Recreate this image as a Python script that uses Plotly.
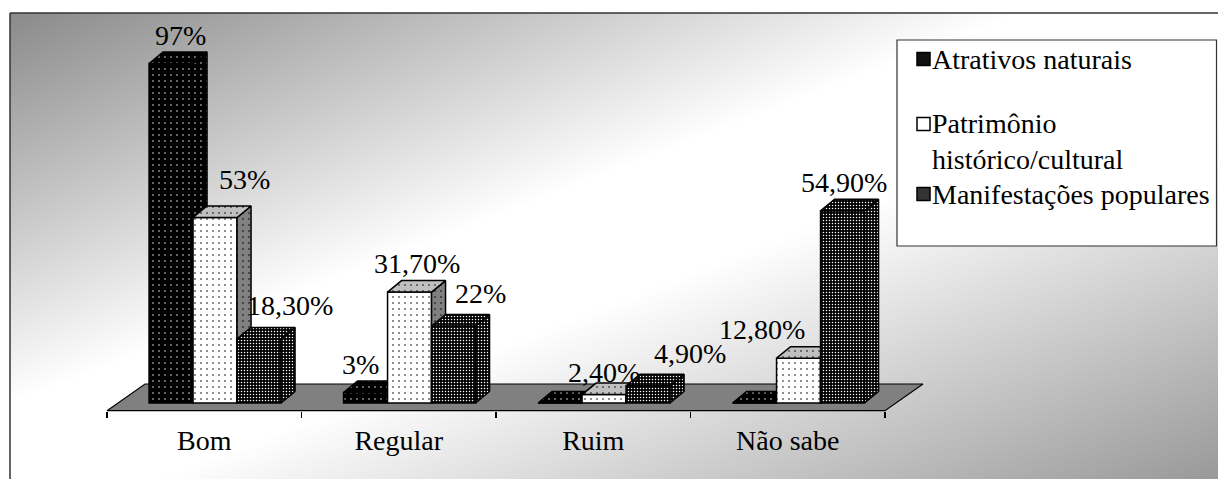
import base64
import plotly.graph_objects as go

# ---------------- data ----------------
categories = ["Bom", "Regular", "Ruim", "Não sabe"]
series_names = ["Atrativos naturais", "Patrimônio histórico/cultural", "Manifestações populares"]
atrativos_naturais = [97, 3, 0, 0]
patrimonio_historico_cultural = [53, 31.7, 2.4, 12.8]
manifestacoes_populares = [18.3, 22, 4.9, 54.9]
series_values = [atrativos_naturais, patrimonio_historico_cultural, manifestacoes_populares]

# ---------------- geometry / style ----------------
W, H = 1218, 479
FONT = "Times New Roman, Liberation Serif, Tinos, DejaVu Serif, serif"
FS = 28
# pixel constants (screen coordinates; body margin removed by post_script)
X0_PX, CAT_PX = 204.25, 194.5      # pixel of first category centre, pixels per category
Y0_PX, PCT_PX = 403.0, 3.5         # pixel of 0 %, pixels per 1 %
XR = [(0 - X0_PX) / CAT_PX, (W - X0_PX) / CAT_PX]
YR = [(Y0_PX - H) / PCT_PX, Y0_PX / PCT_PX]

BAR_W = 44 / CAT_PX
SHIFT = 10.8 / CAT_PX
DX, DY = 14 / CAT_PX, 11.5 / PCT_PX           # bar depth
FLOOR_FRONT = (Y0_PX - 410.7) / PCT_PX
FDX, FDY = 38 / CAT_PX, 26.7 / PCT_PX          # floor depth
AXIS_PX = 410.7


def xp(px):
    return px / W


def yp(py):
    return 1 - py / H


def pat(bg, fg, size, sol):
    return dict(shape=".", bgcolor=bg, fgcolor=fg, size=size, solidity=sol, fillmode="replace")


styles = [
    dict(front=pat("black", "#8a8a8a", 6, 0.08), top=pat("black", "#8a8a8a", 6, 0.08),
         side=pat("black", "#8a8a8a", 6, 0.08), legend="#101010"),
    dict(front=pat("white", "black", 6, 0.06), top=pat("#c0c0c0", "black", 6, 0.06),
         side=pat("#808080", "black", 6, 0.06), legend="white"),
    dict(front=pat("black", "white", 3, 0.2), top=pat("black", "white", 3, 0.2),
         side=pat("black", "white", 3, 0.2), legend="#333333"),
]

# per-label nudges in pixels (Excel label placement), styling only
label_xshift = [[2, -12, 0, 0], [22, 0, -7, -44], [24, 20, 35, -6]]
label_yshift = [[0, 0, 0, 0], [10, 0, -6, 0], [5, 4, 4, 0]]


def fmt(v):
    if float(v).is_integer():
        return f"{int(v)}%"
    return f"{v:.2f}".replace(".", ",") + "%"


fig = go.Figure()
ncat = len(categories)
cat_idx = list(range(ncat))

# floor
fx = [-0.5, ncat - 0.5, ncat - 0.5 + FDX, -0.5 + FDX, -0.5]
fy = [FLOOR_FRONT, FLOOR_FRONT, FLOOR_FRONT + FDY, FLOOR_FRONT + FDY, FLOOR_FRONT]
fig.add_trace(go.Scatter(x=fx, y=fy, mode="lines", fill="toself", fillcolor="#808080",
                         line=dict(color="black", width=1.2), hoverinfo="skip",
                         showlegend=False, xaxis="x", yaxis="y"))

annotations = []
for s, vals in enumerate(series_values):
    axn = f"x{s + 2}"
    off = SHIFT + (s - 1.5) * BAR_W
    st = styles[s]
    fig.add_trace(go.Bar(x=cat_idx, y=vals, width=BAR_W, offset=off, name=series_names[s],
                         marker=dict(color=st["front"]["bgcolor"], pattern=st["front"],
                                     line=dict(color="black", width=1.5)),
                         showlegend=False, xaxis=axn, yaxis="y"))
    tx, ty, sx, sy = [], [], [], []
    for c, v in zip(cat_idx, vals):
        L = c + off
        R = L + BAR_W
        tx += [L, R, R + DX, L + DX, L, None]
        ty += [v, v, v + DY, v + DY, v, None]
        if v > 0:
            sx += [R, R, R + DX, R + DX, R, None]
            sy += [0, v, v + DY, DY, 0, None]
            annotations.append(dict(
                x=L + BAR_W / 2 + DX / 2, y=v + DY, xref=axn, yref="y", text=fmt(v),
                showarrow=False, xanchor="center", yanchor="middle",
                xshift=label_xshift[s][c], yshift=17 + label_yshift[s][c],
                font=dict(family=FONT, size=FS, color="black")))
    if sx:
        fig.add_trace(go.Scatter(x=sx, y=sy, mode="lines", fill="toself",
                                 fillcolor=st["side"]["bgcolor"], fillpattern=st["side"],
                                 line=dict(color="black", width=1.5), hoverinfo="skip",
                                 showlegend=False, xaxis=axn, yaxis="y"))
    fig.add_trace(go.Scatter(x=tx, y=ty, mode="lines", fill="toself",
                             fillcolor=st["top"]["bgcolor"], fillpattern=st["top"],
                             line=dict(color="black", width=1.5), hoverinfo="skip",
                             showlegend=False, xaxis=axn, yaxis="y"))

# ---------------- chart border + manual legend ----------------
shapes = [
    dict(type="line", xref="paper", yref="paper", x0=xp(10), x1=xp(10), y0=yp(13), y1=0,
         line=dict(color="#333333", width=1.5)),
    dict(type="line", xref="paper", yref="paper", x0=xp(10), x1=1, y0=yp(13), y1=yp(13),
         line=dict(color="#333333", width=1.5)),
    dict(type="rect", xref="paper", yref="paper", x0=xp(897), x1=xp(1216.5), y0=yp(40), y1=yp(246),
         fillcolor="white", line=dict(color="#333333", width=1.2)),
]
legend_rows_px = [59, 124, 194]
legend_text_px = [59, 141, 194]
legend_labels = ["Atrativos naturais", "Patrimônio<br>histórico/cultural", "Manifestações populares"]
for s in range(3):
    cy = legend_rows_px[s]
    shapes.append(dict(type="rect", xref="paper", yref="paper", x0=xp(917), x1=xp(930),
                       y0=yp(cy - 6.5), y1=yp(cy + 6.5), fillcolor=styles[s]["legend"],
                       line=dict(color="black", width=1.5)))
    annotations.append(dict(x=xp(930), y=yp(legend_text_px[s]), xref="paper", yref="paper",
                            text=legend_labels[s], showarrow=False, xanchor="left",
                            yanchor="middle", align="left",
                            font=dict(family=FONT, size=FS, color="black")))

# ---------------- gradient background ----------------
svg = ("<svg xmlns='http://www.w3.org/2000/svg' width='100' height='100' viewBox='0 0 100 100' "
       "preserveAspectRatio='none'><defs><linearGradient id='g' x1='0' y1='0' x2='1' y2='1'>"
       "<stop offset='0' stop-color='#8a8a8a'/><stop offset='0.42' stop-color='#ffffff'/>"
       "<stop offset='0.56' stop-color='#ffffff'/><stop offset='1' stop-color='#999999'/>"
       "</linearGradient></defs><rect width='100' height='100' fill='url(#g)'/></svg>")
src = "data:image/svg+xml;base64," + base64.b64encode(svg.encode()).decode()

axis_common = dict(range=XR, visible=False, showgrid=False, zeroline=False, fixedrange=True)
fig.update_layout(
    width=W, height=H, margin=dict(l=0, r=0, t=0, b=0),
    paper_bgcolor="white", plot_bgcolor="rgba(0,0,0,0)",
    showlegend=False, barmode="overlay", hovermode=False,
    font=dict(family=FONT, size=FS, color="black"),
    xaxis=dict(range=XR, domain=[0, 1], showgrid=False, zeroline=False, showline=False,
               tickmode="array", tickvals=cat_idx, ticktext=categories, ticks="",
               tickfont=dict(family=FONT, size=FS, color="black"), ticklabelstandoff=10,
               minor=dict(tickmode="array", tickvals=[i - 0.5 for i in range(ncat + 1)],
                          ticks="outside", ticklen=6, tickwidth=1.2, tickcolor="black"),
               anchor="free", position=yp(AXIS_PX), fixedrange=True),
    xaxis2=dict(overlaying="x", anchor="y", **axis_common),
    xaxis3=dict(overlaying="x", anchor="y", **axis_common),
    xaxis4=dict(overlaying="x", anchor="y", **axis_common),
    yaxis=dict(range=YR, domain=[0, 1], visible=False, fixedrange=True),
    shapes=shapes, annotations=annotations,
    images=[dict(source=src, xref="paper", yref="paper", x=xp(10), y=yp(13),
                 sizex=1 - xp(10), sizey=yp(13),
                 xanchor="left", yanchor="top", sizing="stretch", layer="below")],
)

fig.write_html("out.html", config={"displayModeBar": False, "staticPlot": True},
               post_script="document.body.style.margin='0';document.body.style.overflow='hidden';")
